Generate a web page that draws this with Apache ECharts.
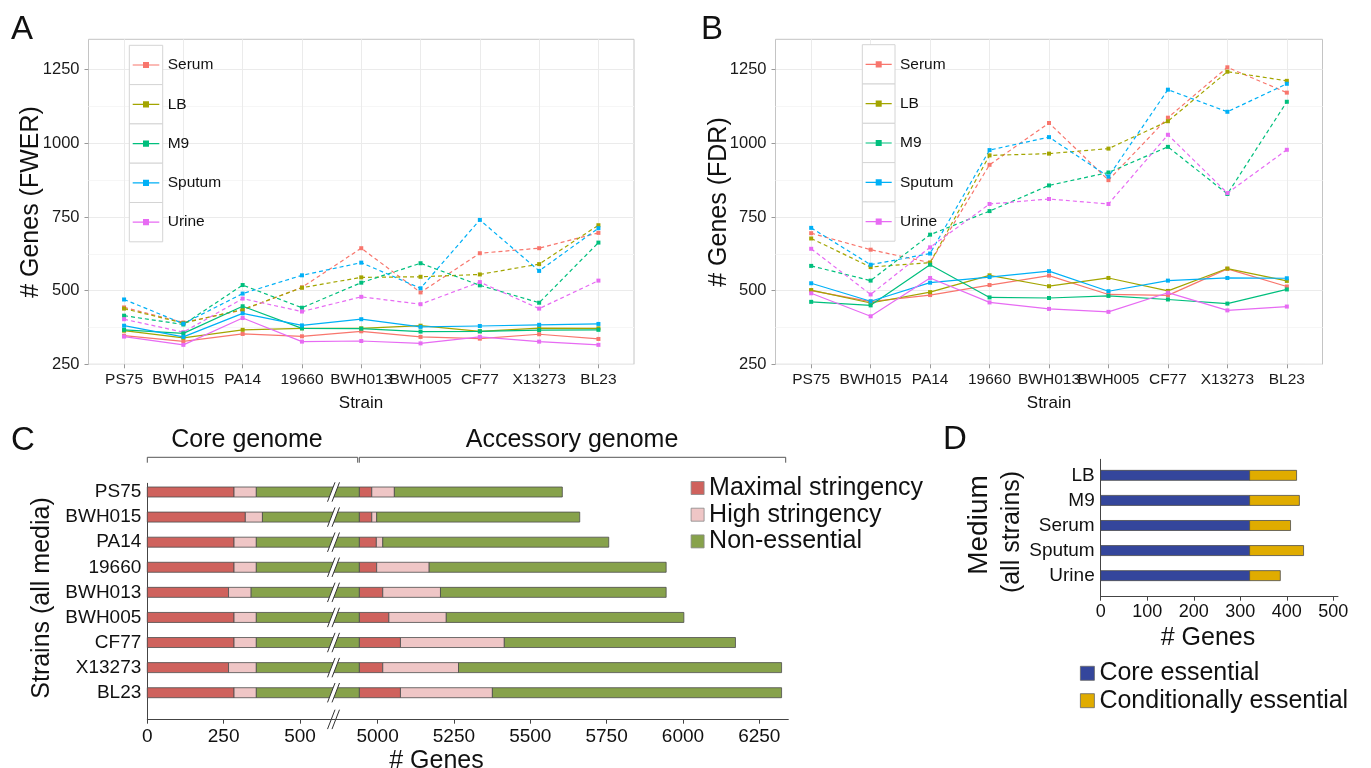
<!DOCTYPE html>
<html>
<head>
<meta charset="utf-8">
<title>Essential genes by strain and medium</title>
<script src="https://cdn.jsdelivr.net/npm/echarts@6/dist/echarts.min.js"></script>
<style>
  html, body { margin: 0; padding: 0; background: #fff; }
  #chart { width: 1371px; height: 768px; }
</style>
</head>
<body>
<div id="chart"></div>
<script>
// ---- data ----
const strains = ['PS75', 'BWH015', 'PA14', '19660', 'BWH013', 'BWH005', 'CF77', 'X13273', 'BL23'];
const media = ['Serum', 'LB', 'M9', 'Sputum', 'Urine'];
const mediaColors = ['#F8766D', '#A3A500', '#00BF7D', '#00B0F6', '#E76BF3'];

// A: # genes (FWER), solid and dashed line per medium
const fwerSerumSolid  = [347, 328, 353, 345, 362, 343, 337, 352, 336];
const fwerLBSolid     = [364, 340, 367, 372, 372, 381, 362, 373, 372];
const fwerM9Solid     = [367, 355, 447, 372, 371, 361, 362, 366, 367];
const fwerSputumSolid = [381, 343, 423, 382, 403, 377, 380, 384, 387];
const fwerUrineSolid  = [344, 316, 407, 327, 329, 321, 343, 327, 316];
const fwerSerumDashed  = [443, 392, 434, 511, 644, 494, 627, 644, 696];
const fwerLBDashed     = [439, 390, 436, 510, 545, 547, 555, 590, 722];
const fwerM9Dashed     = [415, 385, 519, 442, 527, 593, 518, 459, 663];
const fwerSputumDashed = [470, 388, 490, 552, 595, 508, 740, 567, 712];
const fwerUrineDashed  = [403, 359, 473, 429, 479, 454, 529, 439, 534];

// B: # genes (FDR)
const fdrSerumSolid  = [500, 463, 485, 519, 551, 487, 484, 574, 514];
const fdrLBSolid     = [502, 458, 495, 552, 515, 543, 499, 575, 533];
const fdrM9Solid     = [462, 450, 588, 477, 475, 482, 470, 456, 504];
const fdrSputumSolid = [525, 464, 527, 546, 566, 498, 534, 543, 542];
const fdrUrineSolid  = [491, 413, 543, 460, 438, 428, 493, 433, 446];
const fdrSerumDashed  = [695, 639, 595, 927, 1069, 875, 1087, 1258, 1172];
const fdrLBDashed     = [677, 580, 595, 959, 965, 982, 1075, 1243, 1212];
const fdrM9Dashed     = [584, 534, 690, 770, 857, 901, 988, 828, 1141];
const fdrSputumDashed = [713, 588, 626, 977, 1021, 887, 1182, 1107, 1202];
const fdrUrineDashed  = [642, 487, 647, 794, 811, 794, 1029, 831, 978];

const yTicksAB = [250, 500, 750, 1000, 1250];

// C: gene counts per strain, core genome then accessory genome
const coreMaximal      = [284, 321, 284, 284, 266, 284, 284, 266, 284];
const coreHigh         = [73, 56, 73, 73, 74, 73, 73, 91, 73];
const coreNonEssential = [4583, 4563, 4583, 4583, 4600, 4583, 4583, 4583, 4583];
const accMaximal       = [41, 41, 56, 57, 77, 97, 135, 77, 135];
const accHigh          = [74, 16, 21, 172, 189, 188, 340, 248, 301];
const accNonEssential  = [550, 665, 740, 776, 739, 778, 757, 1058, 947];
const cCategories = ['Maximal stringency', 'High stringency', 'Non-essential'];
const cColors = ['#cf625d', '#efc6c6', '#87a24b'];
const cTicksCore = [0, 250, 500];
const cTicksAcc = [5000, 5250, 5500, 5750, 6000, 6250];

// D: essential genes per medium (all strains)
const mediaD = ['LB', 'M9', 'Serum', 'Sputum', 'Urine'];
const coreEssential = [320, 320, 320, 320, 320];
const condEssential = [101, 107, 88, 116, 66];
const dCategories = ['Core essential', 'Conditionally essential'];
const dColors = ['#34469c', '#e0ac00'];
const dTicks = [0, 100, 200, 300, 400, 500];

// ---- layout ----
const FONT = "'Liberation Sans', Arial, Helvetica, sans-serif";
const coreAxisMax = 609;    // where the broken axis of C jumps
const accAxisMin = 4855;

const chart = echarts.init(document.getElementById('chart'));

function lineSeries(name, color, values, dashed, idx) {
    return {
        type: 'line',
        name: name,
        xAxisIndex: idx,
        yAxisIndex: idx,
        data: values.map((v, i) => [i, v]),
        symbol: 'rect',
        symbolSize: 4,
        lineStyle: { color: color, width: 1.2, type: dashed ? [4, 3] : 'solid' },
        itemStyle: { color: color },
        emphasis: { disabled: true },
        silent: true,
        z: dashed ? 2 : 3
    };
}

// stacked horizontal bars -> [start, end, row] per category
function stackRows(parts, cats, nCat, nRows) {
    const out = [];
    for (let c = 0; c < nCat; c++) out.push([]);
    for (let r = 0; r < nRows; r++) {
        let acc = 0;
        parts.forEach((arr, k) => {
            out[cats[k]].push([acc, acc + arr[r], r]);
            acc += arr[r];
        });
    }
    return out;
}

function barItem(h) {
    return function (params, api) {
        const row = api.value(2);
        const a = api.coord([api.value(0), row]);
        const b = api.coord([api.value(1), row]);
        const cs = params.coordSys;
        const rect = echarts.graphic.clipRectByRect(
            { x: a[0], y: a[1] - h / 2, width: b[0] - a[0], height: h },
            { x: cs.x, y: cs.y, width: cs.width, height: cs.height });
        if (!rect) return null;
        return {
            type: 'rect',
            shape: rect,
            style: { fill: api.visual('color'), stroke: '#4d4d4d', lineWidth: 0.8 }
        };
    };
}

// the "//" axis break sign
function breakSign(x, y) {
    const p1 = [x - 5.8, y + 9.7], p2 = [x + 1.7, y - 9.7];
    const q1 = [x - 1.3, y + 9.7], q2 = [x + 6.2, y - 9.7];
    return [
        { type: 'polygon', shape: { points: [p1, p2, q2, q1] }, style: { fill: '#fff' } },
        { type: 'line', shape: { x1: p1[0], y1: p1[1], x2: p2[0], y2: p2[1] }, style: { stroke: '#333', lineWidth: 1 } },
        { type: 'line', shape: { x1: q1[0], y1: q1[1], x2: q2[0], y2: q2[1] }, style: { stroke: '#333', lineWidth: 1 } }
    ];
}

const cData = stackRows(
    [coreMaximal, coreHigh, coreNonEssential, accMaximal, accHigh, accNonEssential],
    [0, 1, 2, 0, 1, 2], 3, strains.length);
const dData = stackRows([coreEssential, condEssential], [0, 1], 2, mediaD.length);

const fwerSolid = [fwerSerumSolid, fwerLBSolid, fwerM9Solid, fwerSputumSolid, fwerUrineSolid];
const fwerDashed = [fwerSerumDashed, fwerLBDashed, fwerM9Dashed, fwerSputumDashed, fwerUrineDashed];
const fdrSolid = [fdrSerumSolid, fdrLBSolid, fdrM9Solid, fdrSputumSolid, fdrUrineSolid];
const fdrDashed = [fdrSerumDashed, fdrLBDashed, fdrM9Dashed, fdrSputumDashed, fdrUrineDashed];

const series = [];
media.forEach((m, i) => series.push(lineSeries(m, mediaColors[i], fwerSolid[i], false, 0)));
media.forEach((m, i) => series.push(lineSeries(m, mediaColors[i], fwerDashed[i], true, 0)));
media.forEach((m, i) => series.push(lineSeries(m, mediaColors[i], fdrSolid[i], false, 1)));
media.forEach((m, i) => series.push(lineSeries(m, mediaColors[i], fdrDashed[i], true, 1)));

[2, 3].forEach(ax => {
    cCategories.forEach((name, c) => {
        series.push({
            type: 'custom', name: name, xAxisIndex: ax, yAxisIndex: ax,
            itemStyle: { color: cColors[c] },
            encode: { x: [0, 1], y: 2 },
            renderItem: barItem(10),
            data: cData[c], silent: true, z: 2
        });
    });
});
series.push({
    type: 'custom', name: 'break', xAxisIndex: 2, yAxisIndex: 2,
    renderItem: function (params, api) {
        const p = api.coord([coreAxisMax, api.value(0)]);
        return { type: 'group', children: breakSign(p[0], p[1]) };
    },
    data: strains.map((s, i) => [i]),
    silent: true, z: 10
});
dCategories.forEach((name, c) => {
    series.push({
        type: 'custom', name: name, xAxisIndex: 4, yAxisIndex: 4,
        itemStyle: { color: dColors[c] },
        encode: { x: [0, 1], y: 2 },
        renderItem: barItem(10),
        data: dData[c], silent: true, z: 2
    });
});

const plain = v => String(v);

function abX(grid) {
    return {
        gridIndex: grid, type: 'value', min: -0.6, max: 8.6,
        axisLine: { show: false, onZero: false },
        axisTick: { show: true, customValues: strains.map((s, i) => i), length: 4, lineStyle: { color: '#999' } },
        axisLabel: {
            customValues: strains.map((s, i) => i),
            formatter: v => strains[Math.round(v)],
            color: '#1a1a1a', fontSize: 15.5, fontFamily: FONT, margin: 7
        },
        splitLine: { show: true, lineStyle: { color: '#ebebeb', width: 1 } }
    };
}
function abY(grid) {
    return {
        gridIndex: grid, type: 'value', min: 250, max: 1353, interval: 250,
        axisLine: { show: false, onZero: false },
        axisTick: { show: true, customValues: yTicksAB, length: 4, lineStyle: { color: '#999' } },
        axisLabel: { customValues: yTicksAB, formatter: plain, color: '#1a1a1a', fontSize: 16.5, fontFamily: FONT, margin: 9 },
        splitLine: { show: true, lineStyle: { color: '#ebebeb', width: 1 } },
        minorTick: { show: false, splitNumber: 2 },
        minorSplitLine: { show: true, lineStyle: { color: '#f6f6f6', width: 1 } }
    };
}
const darkAxis = { show: true, onZero: false, lineStyle: { color: '#444', width: 1 } };
function cX(grid, min, max, ticks, size, margin) {
    return {
        gridIndex: grid, type: 'value', min: min, max: max,
        axisLine: darkAxis,
        axisTick: { show: true, customValues: ticks, length: 4, lineStyle: { color: '#444' } },
        axisLabel: { customValues: ticks, formatter: plain, color: '#111', fontSize: size, fontFamily: FONT, margin: margin },
        splitLine: { show: false }
    };
}

const gridBase = { outerBoundsMode: 'none', containLabel: false };
const option = {
    animation: false,
    backgroundColor: '#fff',
    grid: [
        Object.assign({ left: 88.5, top: 39.3, width: 545.5, height: 325, show: true, backgroundColor: '#fff', borderColor: '#c4c4c4', borderWidth: 1 }, gridBase),
        Object.assign({ left: 775.5, top: 39.3, width: 547, height: 325, show: true, backgroundColor: '#fff', borderColor: '#c4c4c4', borderWidth: 1 }, gridBase),
        Object.assign({ left: 147.3, top: 483.3, width: 186, height: 236.4 }, gridBase),
        Object.assign({ left: 333.3, top: 483.3, width: 455, height: 236.4 }, gridBase),
        Object.assign({ left: 1100.7, top: 459.3, width: 237.3, height: 137.4 }, gridBase)
    ],
    xAxis: [
        abX(0),
        abX(1),
        cX(2, 0, coreAxisMax, cTicksCore, 19, 8),
        cX(3, accAxisMin, 6345, cTicksAcc, 19, 8),
        cX(4, 0, 510, dTicks, 18, 6)
    ],
    yAxis: [
        abY(0),
        abY(1),
        {
            gridIndex: 2, type: 'value', inverse: true, min: -0.347, max: 9.076,
            axisLine: darkAxis, axisTick: { show: false },
            axisLabel: {
                customValues: strains.map((s, i) => i),
                formatter: v => strains[Math.round(v)],
                color: '#111', fontSize: 19, fontFamily: FONT, margin: 6
            },
            splitLine: { show: false }
        },
        { gridIndex: 3, type: 'value', inverse: true, min: -0.347, max: 9.076, show: false, axisLine: { onZero: false } },
        {
            gridIndex: 4, type: 'value', inverse: true, min: -0.64, max: 4.84,
            axisLine: darkAxis, axisTick: { show: false },
            axisLabel: {
                customValues: mediaD.map((s, i) => i),
                formatter: v => mediaD[Math.round(v)],
                color: '#111', fontSize: 19, fontFamily: FONT, margin: 6
            },
            splitLine: { show: false }
        }
    ],
    legend: [
        {
            data: media, orient: 'vertical', left: 129.3, top: 45.3, padding: 0,
            itemWidth: 33.4, itemHeight: 39.3, itemGap: 0, selectedMode: false,
            icon: 'path://M0,0 L0.05,0 L0,0.05 Z M33.4,39.3 L33.35,39.3 L33.4,39.25 Z M3.4,19.1 L30,19.1 L30,20.3 L3.4,20.3 Z M13.7,16.6 L19.7,16.6 L19.7,22.8 L13.7,22.8 Z',
            itemStyle: { borderWidth: 0 },
            textStyle: { fontSize: 15.5, color: '#111', fontFamily: FONT }
        },
        {
            data: media, orient: 'vertical', left: 862.3, top: 44.7, padding: 0,
            itemWidth: 32.7, itemHeight: 39.3, itemGap: 0, selectedMode: false,
            icon: 'path://M0,0 L0.05,0 L0,0.05 Z M32.7,39.3 L32.65,39.3 L32.7,39.25 Z M3.3,19.1 L29.4,19.1 L29.4,20.3 L3.3,20.3 Z M13.4,16.6 L19.4,16.6 L19.4,22.8 L13.4,22.8 Z',
            itemStyle: { borderWidth: 0 },
            textStyle: { fontSize: 15.5, color: '#111', fontFamily: FONT }
        },
        {
            data: cCategories, orient: 'vertical', left: 690.7, top: 475.5, padding: 0,
            itemWidth: 13, itemHeight: 13, itemGap: 1.7, selectedMode: false, icon: 'rect',
            itemStyle: { borderColor: '#888', borderWidth: 0.8 },
            textStyle: { fontSize: 25, color: '#111', fontFamily: FONT }
        },
        {
            data: dCategories, orient: 'vertical', left: 1080, top: 660.8, padding: 0,
            itemWidth: 14, itemHeight: 14, itemGap: 2.4, selectedMode: false, icon: 'rect',
            itemStyle: { borderColor: '#666', borderWidth: 0.8 },
            textStyle: { fontSize: 25, color: '#111', fontFamily: FONT }
        }
    ],
    series: series,
    graphic: []
};

// decorations: legend key boxes, labels, titles, brackets
const g = option.graphic;
function txt(text, x, y, size, rot) {
    g.push({
        type: 'text', x: x, y: y, rotation: rot ? Math.PI / 2 : 0, z: 5, silent: true,
        style: { text: text, font: size + 'px ' + FONT, fill: '#111', textAlign: 'center', textVerticalAlign: 'middle', align: 'center', verticalAlign: 'middle' }
    });
}
for (let i = 0; i < 5; i++) {
    g.push({ type: 'rect', z: 3, silent: true, shape: { x: 129.3, y: 45.3 + i * 39.3, width: 33.4, height: 39.3 }, style: { fill: '#fff', stroke: '#d4d4d4', lineWidth: 1 } });
    g.push({ type: 'rect', z: 3, silent: true, shape: { x: 862.3, y: 44.7 + i * 39.3, width: 32.7, height: 39.3 }, style: { fill: '#fff', stroke: '#d4d4d4', lineWidth: 1 } });
}
txt('A', 22, 30, 33);
txt('B', 712, 30, 33);
txt('C', 23, 441, 33);
txt('D', 955, 440, 33);
txt('# Genes (FWER)', 31, 202, 25, true);
txt('# Genes (FDR)', 719, 202, 25, true);
txt('Strain', 361, 403, 17);
txt('Strain', 1049, 403, 17);
txt('Core genome', 247, 440, 25);
txt('Accessory genome', 572, 440, 25);
txt('Strains (all media)', 42, 598, 25, true);
txt('# Genes', 436.5, 761, 25);
txt('Medium', 979, 525, 28, true);
txt('(all strains)', 1012, 532, 25, true);
txt('# Genes', 1208, 638, 25);
g.push({ type: 'polyline', z: 5, silent: true, shape: { points: [[147.3, 462.7], [147.3, 457.3], [357.7, 457.3], [357.7, 462.7]] }, style: { stroke: '#555', lineWidth: 1, fill: null } });
g.push({ type: 'polyline', z: 5, silent: true, shape: { points: [[359.3, 462.7], [359.3, 457.3], [785.7, 457.3], [785.7, 462.7]] }, style: { stroke: '#555', lineWidth: 1, fill: null } });
g.push({ type: 'group', z: 10, silent: true, children: breakSign(333.3, 719.4) });

chart.setOption(option);
</script>
</body>
</html>
